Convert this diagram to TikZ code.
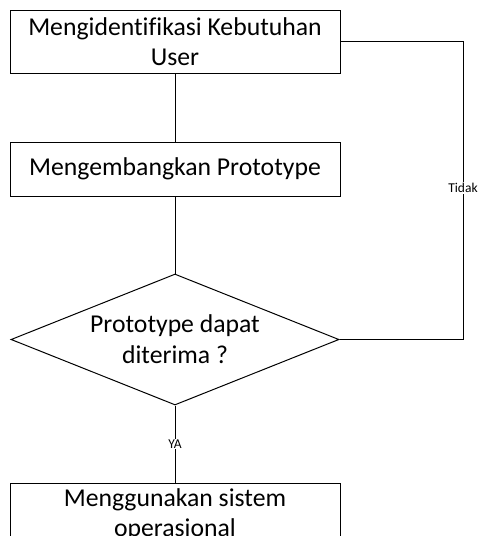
\documentclass[tikz,border=0pt]{standalone}
\usepackage{fontspec}
\setmainfont{Carlito}[Ligatures={NoCommon}]
\usepackage{tikz}
\usetikzlibrary{shapes.geometric}

\begin{document}
\begin{tikzpicture}[x=1pt,y=-1pt,line width=1pt,
  kotak/.style={draw,fill=white,minimum width=330pt,minimum height=63pt,inner sep=0pt,align=center,font=\fontsize{25.7}{29.5}\selectfont},
  putusan/.style={draw,fill=white,diamond,aspect=2.5,minimum width=328pt,minimum height=131pt,inner sep=0pt,align=center,font=\fontsize{25.7}{31}\selectfont},
  ket/.style={fill=white,inner sep=1pt,font=\fontsize{13.5}{15}\selectfont}]
  \useasboundingbox[fill=white] (0,0) rectangle (479,536);
  \node[kotak] (ident) at (175,41.5) {Mengidentifikasi Kebutuhan\\User};
  \node[kotak,minimum height=54pt] (proto) at (175,169) {Mengembangkan Prototype};
  \node[putusan] (cek) at (175,339.5) {Prototype dapat\\diterima ?};
  \node[kotak] (pakai) at (175,514.5) {Menggunakan sistem\\operasional};
  \coordinate (balik) at (463,41.5);
  \draw (ident) -- (proto);
  \draw (proto) -- (cek);
  \draw (cek) -- node[ket] {YA} (pakai);
  \draw (cek.east) -| node[ket,pos=0.754] {Tidak} (balik) -- (ident.east);
\end{tikzpicture}
\end{document}
